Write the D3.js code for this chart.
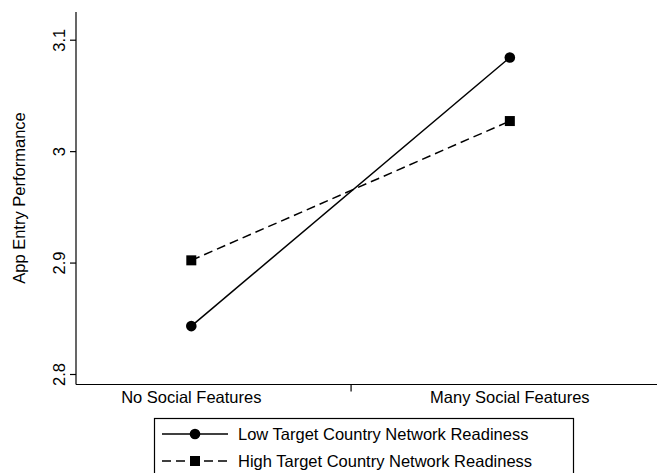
<!DOCTYPE html>
<html lang="en">
<head>
<meta charset="utf-8">
<title>App Entry Performance</title>
<script src="https://cdn.jsdelivr.net/npm/d3@7"></script>
<style>
  body { margin: 0; background: #fff; }
  text { font-family: "Liberation Sans", Arial, sans-serif; fill: #000; }
</style>
</head>
<body>
<script>
var w = 657, h = 473;

// data
var categories = ["No Social Features", "Many Social Features"];
var lowReadiness = [2.843, 3.084];
var highReadiness = [2.902, 3.027];
var seriesNames = ["Low Target Country Network Readiness", "High Target Country Network Readiness"];
var yTicks = [2.8, 2.9, 3.0, 3.1];

var series = [
  { name: seriesNames[0], values: lowReadiness, dash: null, marker: "circle" },
  { name: seriesNames[1], values: highReadiness, dash: "9,5", marker: "square" }
];

var fontSize = "16.5px";

var svg = d3.select("body").append("svg")
  .attr("width", w).attr("height", h);

// x: category index 0..1, with padding on both sides
var xScale = d3.scaleLinear().domain([-0.362, 1.462]).range([76, 657]);
var yScale = d3.scaleLinear().domain([2.8, 3.1]).range([374, 39.7]);

// axes
var yAxis = d3.axisLeft(yScale).tickValues(yTicks).tickSize(6)
  .tickFormat(function(d) { return d === 3 ? "3" : d3.format(".1f")(d); });

var gy = svg.append("g").attr("transform", "translate(76,0)").call(yAxis);
gy.select(".domain").attr("d", "M0,12V384.5");
gy.selectAll(".tick text")
  .attr("transform", "rotate(-90)")
  .attr("x", 0).attr("y", -11)
  .attr("dy", 0)
  .style("text-anchor", "middle")
  .style("font-size", fontSize)
  .style("font-family", "Liberation Sans, Arial, sans-serif");

var xAxis = d3.axisBottom(xScale).tickValues([0.5]).tickSize(7).tickFormat("");
var gx = svg.append("g").attr("transform", "translate(0,384.5)").call(xAxis);
gx.select(".domain").attr("d", "M76,0H657");

svg.selectAll(".domain, .tick line").attr("stroke", "#000").attr("stroke-width", 1.2);

// category labels
svg.selectAll(".cat").data(categories).enter().append("text")
  .attr("class", "cat")
  .attr("x", function(d, i) { return xScale(i); })
  .attr("y", 403)
  .attr("text-anchor", "middle")
  .style("font-size", fontSize)
  .text(function(d) { return d; });

// y title
svg.append("text")
  .attr("transform", "translate(25,198) rotate(-90)")
  .attr("text-anchor", "middle")
  .style("font-size", fontSize)
  .text("App Entry Performance");

// lines
var line = d3.line()
  .x(function(d, i) { return xScale(i); })
  .y(function(d) { return yScale(d); });

svg.selectAll(".series").data(series).enter().append("path")
  .attr("class", "series")
  .attr("d", function(d) { return line(d.values); })
  .attr("fill", "none")
  .attr("stroke", "#000")
  .attr("stroke-width", 1.5)
  .attr("stroke-dasharray", function(d) { return d.dash; });

// markers
function drawMarker(g, type, cx, cy) {
  if (type === "circle") {
    g.append("circle").attr("cx", cx).attr("cy", cy).attr("r", 5.3).attr("fill", "#000");
  } else {
    g.append("rect").attr("x", cx - 5).attr("y", cy - 5).attr("width", 10).attr("height", 10).attr("fill", "#000");
  }
}

series.forEach(function(s) {
  s.values.forEach(function(v, i) {
    drawMarker(svg, s.marker, xScale(i), yScale(v));
  });
});

// legend
var legend = svg.append("g");
legend.append("rect")
  .attr("x", 154.5).attr("y", 418.5).attr("width", 419).attr("height", 70)
  .attr("fill", "none").attr("stroke", "#000").attr("stroke-width", 1.2);

var legendRows = [434, 461];
series.forEach(function(s, i) {
  var yy = legendRows[i];
  legend.append("line")
    .attr("x1", 162).attr("x2", 228).attr("y1", yy).attr("y2", yy)
    .attr("stroke", "#000").attr("stroke-width", 1.5)
    .attr("stroke-dasharray", s.dash);
  drawMarker(legend, s.marker, 195, yy);
  legend.append("text")
    .attr("x", 238).attr("y", yy).attr("dy", "0.36em")
    .style("font-size", fontSize)
    .text(s.name);
});
</script>
</body>
</html>
